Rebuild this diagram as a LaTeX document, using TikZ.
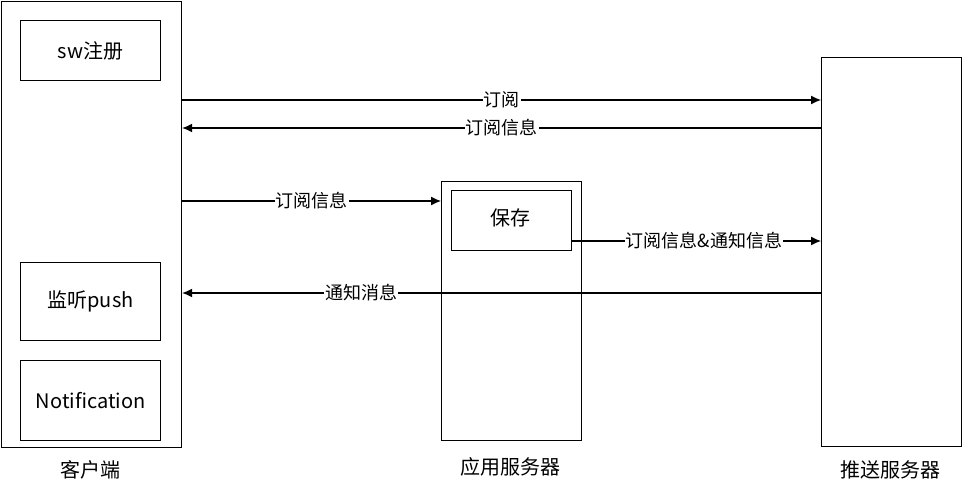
\documentclass[tikz,border=0pt]{standalone}
\usetikzlibrary{arrows.meta}
\usepackage{fontspec}
\setmainfont{Noto Sans CJK SC}
\begin{document}
\begin{tikzpicture}[x=1pt,y=-1pt,
  box/.style={draw,line width=1.2pt,anchor=north west,inner sep=0pt},
  arr/.style={-{Latex[length=10pt,width=9pt]},line width=1.2pt},
  lbl/.style={fill=white,inner sep=1pt,font=\fontsize{18}{20}\selectfont},
  txt/.style={font=\fontsize{20}{22}\selectfont}]
\useasboundingbox (0,0) rectangle (962,490);
\node[box,minimum width=180,minimum height=446] (client) at (1,1) {};
\node[box,minimum width=140,minimum height=60,txt] (sw) at (20,20) {sw注册};
\node[box,minimum width=140,minimum height=78,txt] (push) at (20,262) {监听push};
\node[box,minimum width=140,minimum height=80,txt] (noti) at (20,360) {Notification};
\node[box,minimum width=140,minimum height=259] (app) at (441,181) {};
\node[box,minimum width=120,minimum height=60,txt,anchor=north west] (save) at (451,190) {};
\node[txt] at (510,218) {保存};
\node[box,minimum width=140,minimum height=389] (ps) at (821,57) {};
\node[txt] (l1) at (90,470) {客户端};
\node[txt] (l2) at (510,467) {应用服务器};
\node[txt] (l3) at (890,470) {推送服务器};
\draw[arr] (client.east |- 0,100) -- node[lbl]{订阅} (ps.west |- 0,100);
\draw[arr] (ps.west |- 0,128) -- node[lbl]{订阅信息} (client.east |- 0,128);
\draw[arr] (client.east |- 0,201) -- node[lbl]{订阅信息} (app.west |- 0,201);
\draw[arr] (save.east |- 0,241) -- node[lbl,pos=0.53]{订阅信息\&通知信息} (ps.west |- 0,241);
\draw[arr] (ps.west |- 0,293) -- node[lbl,pos=0.72]{通知消息} (client.east |- 0,293);
\end{tikzpicture}
\end{document}
